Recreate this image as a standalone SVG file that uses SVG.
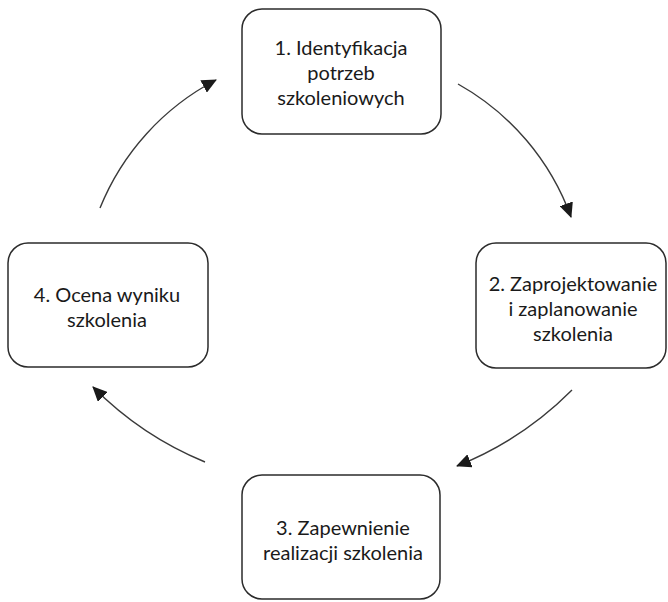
<svg xmlns="http://www.w3.org/2000/svg" width="668" height="602" viewBox="0 0 668 602">
<style>
.box{fill:#fff;stroke:#2b2b2b;stroke-width:1.5}
.t{font-family:Lato,"Open Sans",sans-serif;font-size:20px;fill:#1a1a1a;text-anchor:middle}
.c{fill:none;stroke:#3a3a3a;stroke-width:1.4}
</style>
<defs>
<marker id="ah" markerWidth="16" markerHeight="14" refX="14" refY="7" orient="auto" markerUnits="userSpaceOnUse">
<path d="M0,0 L15,7 L0,14 Z" fill="#1a1a1a"/>
</marker>
</defs>
<rect width="668" height="602" fill="#fff"/>
<g id="connectors">
<path class="c" d="M458,84 A250,250 0 0,1 571,217" marker-end="url(#ah)"/>
<path class="c" d="M572,390 A340,340 0 0,1 457,466" marker-end="url(#ah)"/>
<path class="c" d="M205,462 A340,340 0 0,1 93,387" marker-end="url(#ah)"/>
<path class="c" d="M100,208 A250,250 0 0,1 216,80" marker-end="url(#ah)"/>
</g>
<g id="node1">
<rect class="box" x="242" y="9" width="199" height="125" rx="20"/>
<text class="t" x="341" y="55">1. Identyfikacja</text>
<text class="t" x="341" y="80">potrzeb</text>
<text class="t" x="341" y="105">szkoleniowych</text>
</g>
<g id="node2">
<rect class="box" x="476" y="243" width="190" height="125" rx="20"/>
<text class="t" x="573" y="291">2. Zaprojektowanie</text>
<text class="t" x="573" y="316">i zaplanowanie</text>
<text class="t" x="573" y="341">szkolenia</text>
</g>
<g id="node3">
<rect class="box" x="242" y="475" width="198" height="124" rx="20"/>
<text class="t" x="343" y="535">3. Zapewnienie</text>
<text class="t" x="343" y="560">realizacji szkolenia</text>
</g>
<g id="node4">
<rect class="box" x="8" y="243" width="200" height="124" rx="20"/>
<text class="t" x="107" y="302">4. Ocena wyniku</text>
<text class="t" x="107" y="327">szkolenia</text>
</g>
</svg>
